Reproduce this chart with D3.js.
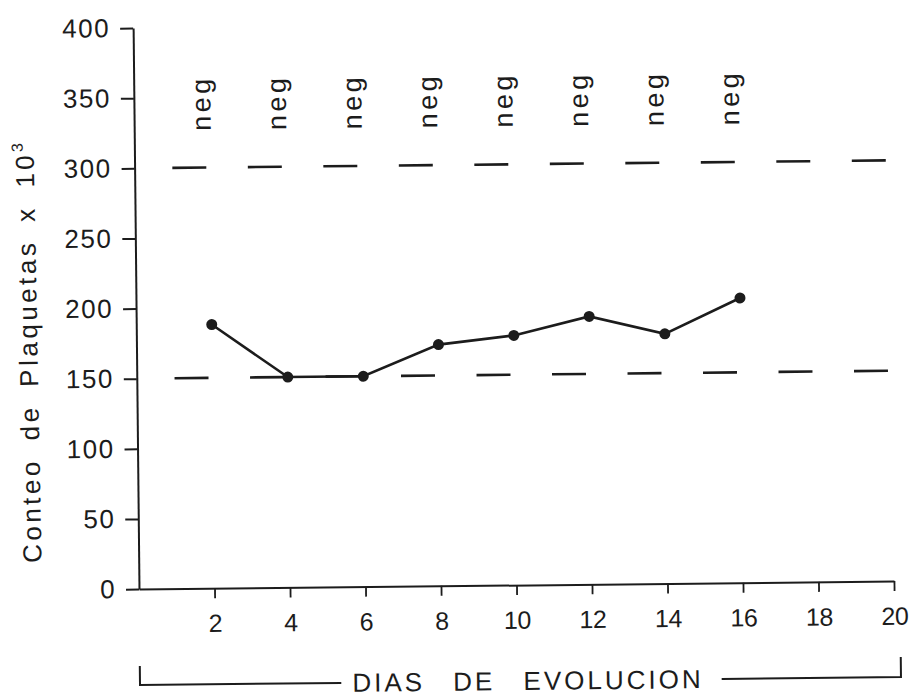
<!DOCTYPE html>
<html>
<head>
<meta charset="utf-8">
<script src="https://cdn.jsdelivr.net/npm/d3@7"></script>
<style>
  body { margin: 0; background: #fff; }
  svg { display: block; }
</style>
</head>
<body>
<div id="chart"></div>
<script>
const days = [2, 4, 6, 8, 10, 12, 14, 16];
const plaquetas = [188, 150, 150, 172, 178, 191, 178, 203];
const pruebas = ["neg", "neg", "neg", "neg", "neg", "neg", "neg", "neg"];
const limites = [150, 300];
const xTicks = [2, 4, 6, 8, 10, 12, 14, 16, 18, 20];
const yTicks = [0, 50, 100, 150, 200, 250, 300, 350, 400];
const yTitle = "Conteo de Plaquetas x 10";
const yTitleSup = "3";
const xTitle = "DIAS DE EVOLUCION";

const width = 911;
const height = 698;
const ink = "#1c1c1c";
const font = "'Liberation Sans', Arial, sans-serif";

const svg = d3.select("#chart")
    .append("svg")
    .attr("width", width)
    .attr("height", height);

svg.append("rect").attr("width", width).attr("height", height).attr("fill", "#fff");

const xScale = d3.scaleLinear().domain([0, 20]).range([139, 894]);
const yScale = d3.scaleLinear().domain([0, 400]).range([589, 28]);

// the scanned figure is slightly tilted
const chart = svg.append("g")
    .attr("transform", `rotate(-0.6 ${xScale(0)} ${yScale(0)})`);

const yAxis = d3.axisLeft(yScale).tickValues(yTicks).tickSize(13).tickSizeOuter(0).tickPadding(10);
const xAxis = d3.axisBottom(xScale).tickValues(xTicks).tickSize(10).tickSizeOuter(0).tickPadding(16);

chart.append("g")
    .attr("transform", `translate(${xScale(0)},0)`)
    .call(yAxis)
    .call(g => g.select(".domain").attr("stroke", ink).attr("stroke-width", 2))
    .call(g => g.selectAll(".tick line").attr("stroke", ink).attr("stroke-width", 2))
    .call(g => g.selectAll(".tick text")
        .attr("fill", ink).attr("font-family", font).attr("font-size", 26)
        .attr("letter-spacing", 1.5));

chart.append("g")
    .attr("transform", `translate(0,${yScale(0)})`)
    .call(xAxis)
    .call(g => g.select(".domain").attr("stroke", ink).attr("stroke-width", 2))
    .call(g => g.selectAll(".tick line").attr("stroke", ink).attr("stroke-width", 1.8))
    .call(g => g.selectAll(".tick text")
        .attr("fill", ink).attr("font-family", font).attr("font-size", 25)
        .attr("letter-spacing", -0.5));

chart.selectAll(".limite")
    .data(limites)
    .join("line")
    .attr("class", "limite")
    .attr("x1", xScale(1))
    .attr("x2", xScale(20))
    .attr("y1", d => yScale(d))
    .attr("y2", d => yScale(d))
    .attr("stroke", ink)
    .attr("stroke-width", 2.6)
    .attr("stroke-dasharray", `${xScale(1.9) - xScale(1)} ${xScale(3) - xScale(1.9)}`);

const puntos = days.map((d, i) => ({ day: d, value: plaquetas[i], test: pruebas[i] }));

const line = d3.line()
    .x(d => xScale(d.day))
    .y(d => yScale(d.value));

chart.append("path")
    .datum(puntos)
    .attr("d", line)
    .attr("fill", "none")
    .attr("stroke", ink)
    .attr("stroke-width", 2.6);

chart.selectAll(".punto")
    .data(puntos)
    .join("circle")
    .attr("class", "punto")
    .attr("cx", d => xScale(d.day))
    .attr("cy", d => yScale(d.value))
    .attr("r", 5.5)
    .attr("fill", ink);

chart.selectAll(".prueba")
    .data(puntos)
    .join("text")
    .attr("class", "prueba")
    .attr("transform", d => `translate(${xScale(d.day) + 1},${yScale(346)}) rotate(-90)`)
    .attr("text-anchor", "middle")
    .attr("font-family", font)
    .attr("font-size", 27)
    .attr("letter-spacing", 3.5)
    .attr("fill", ink)
    .text(d => d.test);

const title = chart.append("text")
    .attr("transform", `translate(40,350) rotate(-90.5)`)
    .attr("text-anchor", "middle")
    .attr("font-family", font)
    .attr("font-size", 26)
    .attr("letter-spacing", 3.5)
    .attr("word-spacing", 7)
    .attr("fill", ink);
title.append("tspan").text(yTitle);
title.append("tspan").attr("font-size", 16).attr("dy", -11).text(yTitleSup);

const xLabel = chart.append("text")
    .attr("x", 527)
    .attr("y", 694)
    .attr("text-anchor", "middle")
    .attr("font-family", font)
    .attr("font-size", 26)
    .attr("letter-spacing", 3)
    .attr("word-spacing", 18)
    .attr("fill", ink)
    .text(xTitle);

const box = xLabel.node().getBBox();
const yBracket = 685;

chart.append("path")
    .attr("d", `M${xScale(0)},${yBracket - 19}V${yBracket}H${box.x - 11}`)
    .attr("fill", "none")
    .attr("stroke", ink)
    .attr("stroke-width", 2);

chart.append("path")
    .attr("d", `M${box.x + box.width + 18},${yBracket}H${xScale(20) + 6}V${yBracket - 20}`)
    .attr("fill", "none")
    .attr("stroke", ink)
    .attr("stroke-width", 2);
</script>
</body>
</html>
